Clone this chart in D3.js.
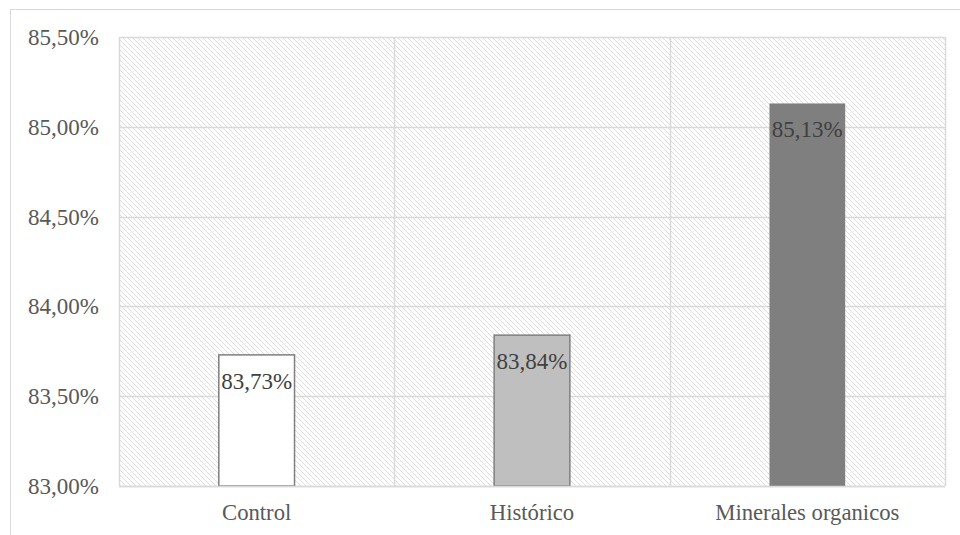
<!DOCTYPE html>
<html><head><meta charset="utf-8">
<script src="https://cdn.jsdelivr.net/npm/d3@7"></script>
<style>body{margin:0;background:#fff}svg{display:block}text{font-family:'Liberation Serif','Times New Roman',serif}</style>
</head><body>
<svg id="c" width="960" height="535"></svg>
<script>
const categories = ["Control", "Histórico", "Minerales organicos"];
const values = [83.73, 83.84, 85.13];
const labels = ["83,73%", "83,84%", "85,13%"];
const yTicks = [83.0, 83.5, 84.0, 84.5, 85.0, 85.5];
const fills = ["#ffffff", "#bfbfbf", "#7f7f7f"];

const svg = d3.select("#c");
const m = {l:119, r:945, t:37, b:486};
const defs = svg.append("defs");
const pat = defs.append("pattern").attr("id","hatch").attr("patternUnits","userSpaceOnUse")
  .attr("width",5).attr("height",5);
pat.append("rect").attr("width",5).attr("height",5).attr("fill","#fff");
pat.append("path").attr("d","M-1,-1L6,6M-1,4L1,6M4,-1L6,1").attr("stroke","#dedede").attr("stroke-width",1);

svg.append("rect").attr("x",10.5).attr("y",9.5).attr("width",960).attr("height",540)
  .attr("fill","#fff").attr("stroke","#d9d9d9");

const x = d3.scaleBand().domain(categories).range([m.l,m.r]).paddingInner(0).paddingOuter(0);
const y = d3.scaleLinear().domain([83,85.5]).range([m.b,m.t]);

svg.append("rect").attr("x",m.l).attr("y",m.t).attr("width",m.r-m.l).attr("height",m.b-m.t).attr("fill","url(#hatch)");

svg.append("g").selectAll("line").data(yTicks).join("line")
  .attr("x1",m.l).attr("x2",m.r).attr("y1",d=>Math.round(y(d))+0.5).attr("y2",d=>Math.round(y(d))+0.5)
  .attr("stroke","#d9d9d9").attr("stroke-width",1.5);
const vb = categories.map(c=>x(c)).concat([m.r]);
svg.append("g").selectAll("line").data(vb).join("line")
  .attr("x1",d=>Math.round(d)+0.5).attr("x2",d=>Math.round(d)+0.5).attr("y1",m.t).attr("y2",m.b)
  .attr("stroke","#d9d9d9").attr("stroke-width",1.5);

const bw = x.bandwidth()*0.275;
svg.append("g").selectAll("rect").data(categories).join("rect")
  .attr("x",d=>x(d)+x.bandwidth()/2-bw/2)
  .attr("y",(d,i)=>y(values[i]))
  .attr("width",bw)
  .attr("height",(d,i)=>y(83)-y(values[i]))
  .attr("fill",(d,i)=>fills[i])
  .attr("stroke",(d,i)=>i<2?"#7f7f7f":"none").attr("stroke-width",1.5);

svg.append("g").selectAll("text").data(categories).join("text")
  .attr("x",d=>x(d)+x.bandwidth()/2)
  .attr("y",(d,i)=>y(values[i])+34)
  .attr("text-anchor","middle")
  .attr("font-size",23).attr("fill","#404040")
  .text((d,i)=>labels[i]);

svg.append("line").attr("x1",m.l).attr("x2",m.r).attr("y1",m.b+0.5).attr("y2",m.b+0.5)
  .attr("stroke","#d9d9d9").attr("stroke-width",1.5);

const fmt = d=>d.toFixed(2).replace(".",",")+"%";
svg.append("g").selectAll("text").data(yTicks).join("text")
  .attr("x",99).attr("y",d=>y(d)+8)
  .attr("text-anchor","end")
  .attr("font-size",23).attr("fill","#595959")
  .text(fmt);

svg.append("g").selectAll("text").data(categories).join("text")
  .attr("x",d=>x(d)+x.bandwidth()/2).attr("y",520)
  .attr("text-anchor","middle")
  .attr("font-size",22.7).attr("fill","#595959")
  .text(d=>d);
</script>
</body></html>
